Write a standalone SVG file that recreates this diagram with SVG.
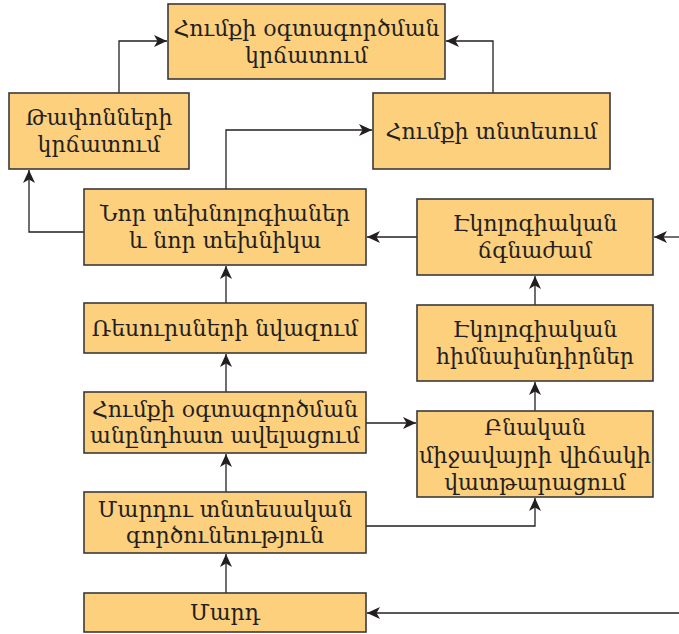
<svg xmlns="http://www.w3.org/2000/svg" width="679" height="634" viewBox="0 0 679 634">
<style>
.box{fill:#FDD07E;stroke:#3a3a3a;stroke-width:1.6}
.t{font-family:"DejaVu Serif","Noto Serif",serif;font-size:22px;fill:#231f20;text-anchor:middle}
.c{fill:none;stroke:#231f20;stroke-width:1.3}
</style>
<defs>
<marker id="a" markerUnits="userSpaceOnUse" markerWidth="14" markerHeight="12" refX="13" refY="6" orient="auto">
<path d="M0,0 L13,6 L0,12 L3.5,6 z" fill="#231f20"/>
</marker>
</defs>
<rect width="679" height="634" fill="#fff"/>
<g id="connectors">
<path class="c" d="M119,93 V41 H167" marker-end="url(#a)"/>
<path class="c" d="M493,93 V41 H446" marker-end="url(#a)"/>
<path class="c" d="M226,189 V130 H372" marker-end="url(#a)"/>
<path class="c" d="M84,232 H29 V170" marker-end="url(#a)"/>
<path class="c" d="M226,303 V266" marker-end="url(#a)"/>
<path class="c" d="M226,392 V354" marker-end="url(#a)"/>
<path class="c" d="M226,492 V454" marker-end="url(#a)"/>
<path class="c" d="M226,593 V554" marker-end="url(#a)"/>
<path class="c" d="M417,237 H367" marker-end="url(#a)"/>
<path class="c" d="M679,237 H654" marker-end="url(#a)"/>
<path class="c" d="M535,305 V276" marker-end="url(#a)"/>
<path class="c" d="M535,411 V382" marker-end="url(#a)"/>
<path class="c" d="M366,423 H416" marker-end="url(#a)"/>
<path class="c" d="M366,526 H535 V498" marker-end="url(#a)"/>
<path class="c" d="M679,613 H367" marker-end="url(#a)"/>
</g>
<g id="n1"><rect class="box" x="168" y="4" width="277" height="75"/><text class="t" x="306.5" y="36">Հումքի օգտագործման</text><text class="t" x="306.5" y="63">կրճատում</text></g>
<g id="n2"><rect class="box" x="9" y="93" width="180" height="76"/><text class="t" x="99" y="125">Թափոնների</text><text class="t" x="99" y="152">կրճատում</text></g>
<g id="n3"><rect class="box" x="373" y="93" width="237" height="76"/><text class="t" x="491.5" y="139">Հումքի տնտեսում</text></g>
<g id="n4"><rect class="box" x="84" y="189" width="282" height="76"/><text class="t" x="225" y="221">Նոր տեխնոլոգիաներ</text><text class="t" x="225" y="248">և նոր տեխնիկա</text></g>
<g id="n5"><rect class="box" x="84" y="303" width="282" height="50"/><text class="t" x="225" y="336">Ռեսուրսների նվազում</text></g>
<g id="n6"><rect class="box" x="84" y="392" width="282" height="61"/><text class="t" x="225" y="417">Հումքի օգտագործման</text><text class="t" x="225" y="443">անընդհատ ավելացում</text></g>
<g id="n7"><rect class="box" x="84" y="492" width="282" height="61"/><text class="t" x="225" y="517">Մարդու տնտեսական</text><text class="t" x="225" y="543">գործունեություն</text></g>
<g id="n8"><rect class="box" x="84" y="593" width="282" height="39"/><text class="t" x="225" y="620">Մարդ</text></g>
<g id="n9"><rect class="box" x="417" y="199" width="236" height="76"/><text class="t" x="535" y="231">Էկոլոգիական</text><text class="t" x="535" y="258">ճգնաժամ</text></g>
<g id="n10"><rect class="box" x="417" y="305" width="236" height="76"/><text class="t" x="535" y="337">Էկոլոգիական</text><text class="t" x="535" y="364">հիմնախնդիրներ</text></g>
<g id="n11"><rect class="box" x="417" y="411" width="236" height="86"/><text class="t" x="535" y="435">Բնական</text><text class="t" x="535" y="463" textLength="232" lengthAdjust="spacingAndGlyphs">միջավայրի վիճակի</text><text class="t" x="535" y="490">վատթարացում</text></g>
</svg>
